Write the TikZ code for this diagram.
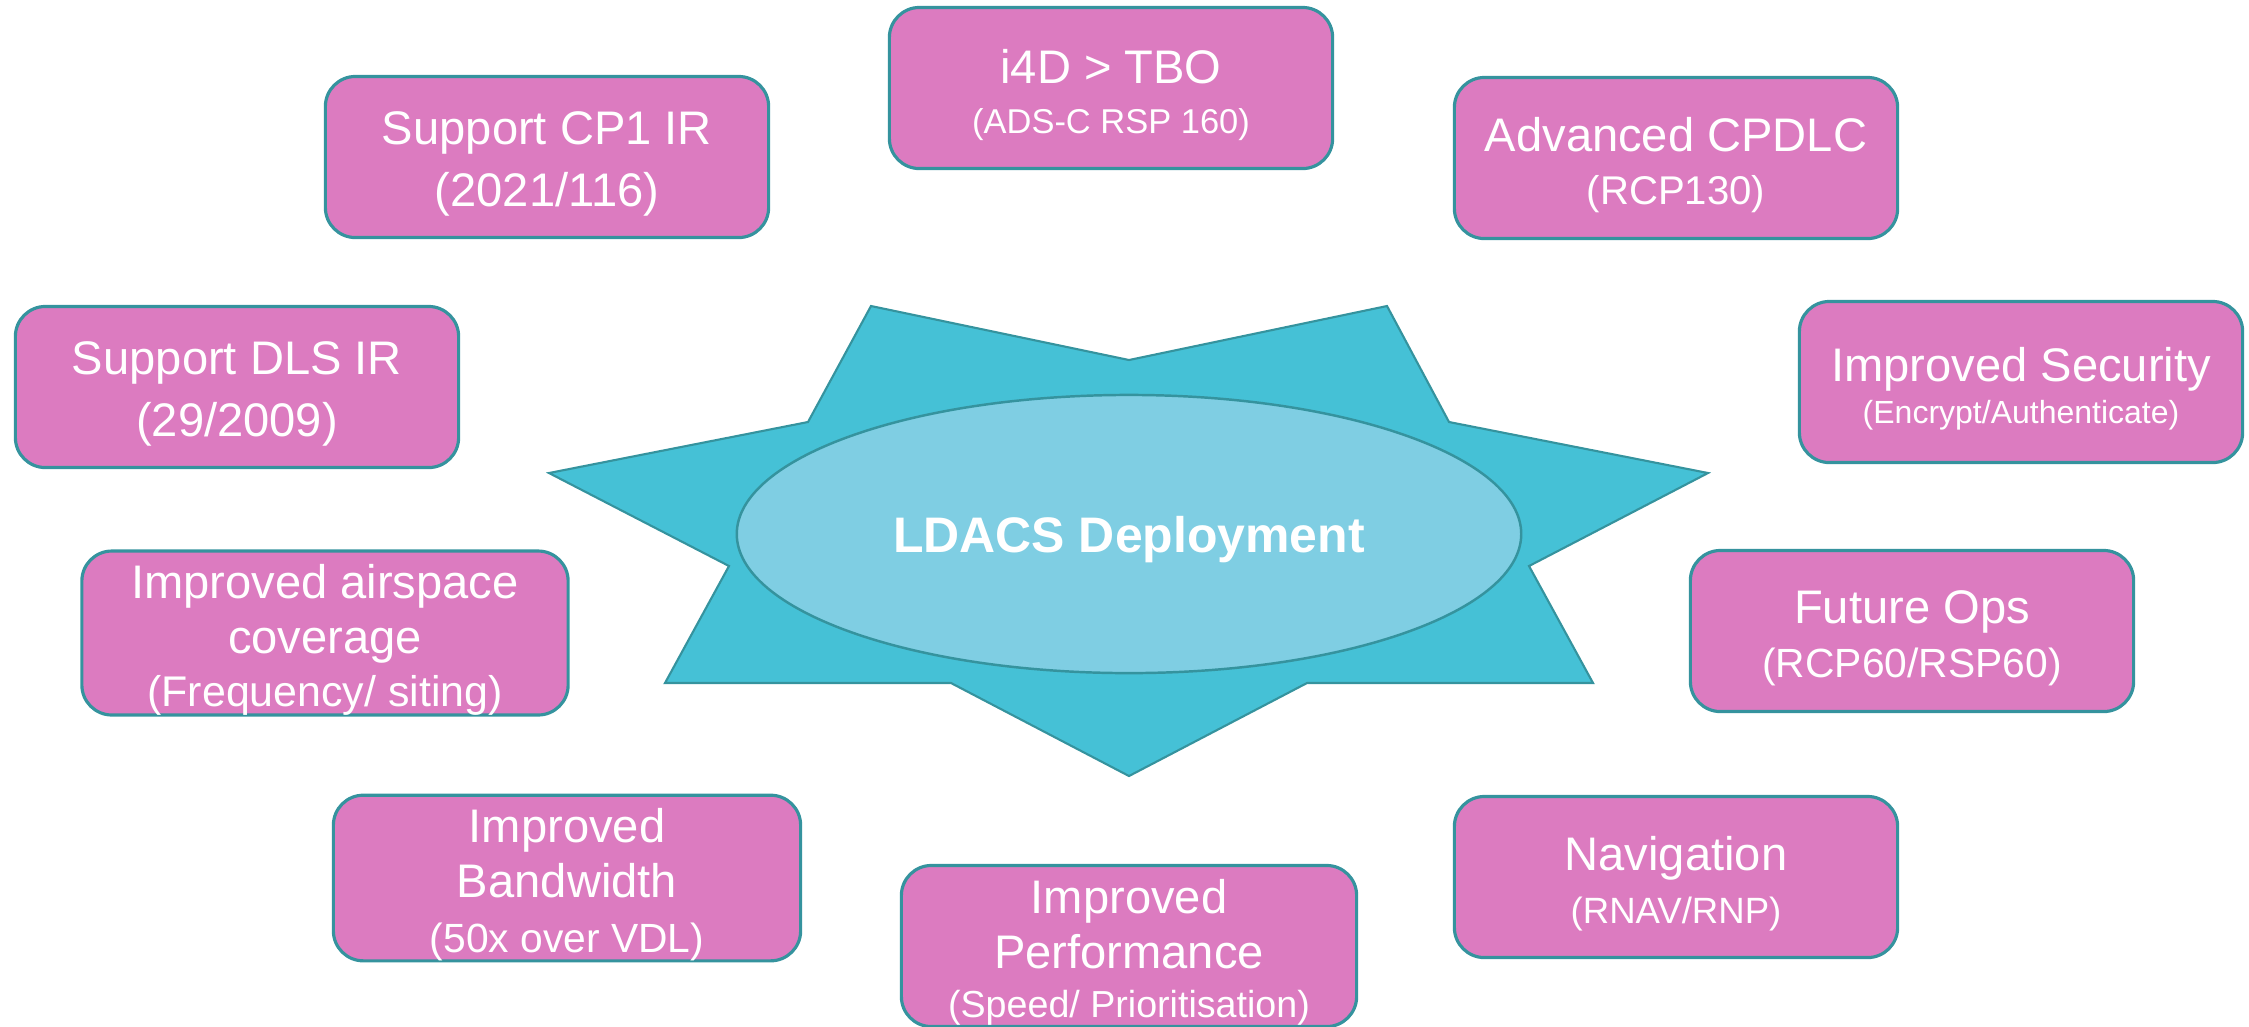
\documentclass[tikz,border=0pt]{standalone}
\usepackage{fontspec}
\setmainfont{Liberation Sans}
\usepackage{xcolor}
\usetikzlibrary{shapes.geometric}
\definecolor{goalpink}{HTML}{DC7BC0}
\definecolor{goaledge}{HTML}{35939E}
\definecolor{starcyan}{HTML}{45C1D6}
\definecolor{corecyan}{HTML}{7FCEE3}
\newcommand{\subline}[2]{{\fontsize{#1}{15}\selectfont #2}}
\newcommand{\topstrut}{\rule{0pt}{13.5pt}}
\tikzset{
  goal/.style={rounded corners=0.3cm, draw=goaledge, line width=0.9pt, fill=goalpink, text=white, align=center, inner sep=0pt, minimum width=4.43cm, minimum height=1.61cm, font=\fontsize{13.4}{17.6}\selectfont},
  tall/.style={goal, font=\fontsize{13.4}{15.6}\selectfont},
  burst/.style={draw=goaledge, line width=0.6pt, fill=starcyan, line join=miter},
  core/.style={ellipse, draw=goaledge, line width=0.7pt, fill=corecyan, text=white, inner sep=0pt, text depth=0pt, minimum width=7.84cm, minimum height=2.78cm, font=\bfseries\fontsize{14.2}{17}\selectfont}
}

\begin{document}
\begin{tikzpicture}[x=0.01cm, y=-0.01cm]
  \useasboundingbox (0,0) rectangle (2249,1026);

  % seven point star behind the centre
  \draw[burst] (871,306) -- (1129,360) -- (1387,306) -- (1449,422) -- (1708,473) -- (1529,566) -- (1593,683) -- (1307,683) -- (1129,776) -- (951,683) -- (665,683) -- (729,566) -- (549,473) -- (808,422) -- cycle;
  \node[core] (ldacs) at (1129,534) {LDACS Deployment};

  % benefits round the star
  \node[goal] (tbo) at (1111,88) {\topstrut i4D > TBO\\[-3.4pt]\subline{9.8}{(ADS-C RSP 160)}};
  \node[goal] (cpone) at (547,157) {\topstrut Support CP1 IR\\(2021/116)};
  \node[goal] (cpdlc) at (1676,158) {\topstrut Advanced CPDLC\\[-2.5pt]\subline{11.4}{(RCP130)}};
  \node[goal] (dls) at (237,387) {\topstrut Support DLS IR\\(29/2009)};
  \node[goal] (sec) at (2021,382) {\topstrut Improved Security\\[-5.8pt]\subline{9.1}{(Encrypt/Authenticate)}};
  \node[tall, minimum width=4.86cm] (air) at (325,633) {\topstrut Improved airspace\\coverage\\[-0.6pt]\subline{12.2}{(Frequency/ siting)}};
  \node[goal] (ops) at (1912,631) {\topstrut Future Ops\\[-2.5pt]\subline{11.6}{(RCP60/RSP60)}};
  \node[tall, minimum width=4.67cm] (band) at (567,878) {\topstrut Improved\\Bandwidth\\\subline{11.6}{(50x over VDL)}};
  \node[goal] (nav) at (1676,877) {\topstrut Navigation\\[-2.8pt]\subline{10.4}{(RNAV/RNP)}};
  \node[tall, minimum width=4.55cm] (perf) at (1129,946) {\topstrut Improved\\Performance\\[-1.7pt]\subline{10.7}{(Speed/ Prioritisation)}};
\end{tikzpicture}
\end{document}
